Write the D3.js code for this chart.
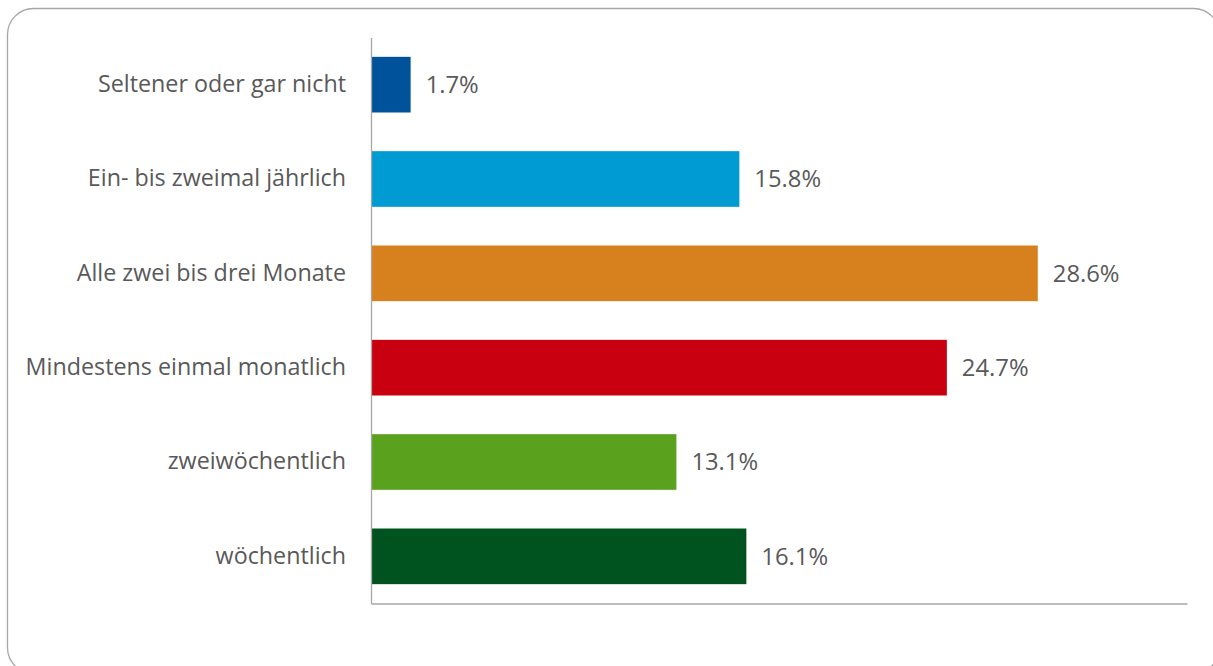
<!DOCTYPE html>
<html>
<head>
<meta charset="utf-8">
<script src="https://cdn.jsdelivr.net/npm/d3@7"></script>
<style>
  html, body { margin: 0; padding: 0; background: #fff; }
  svg { display: block; }
  text { font-family: "Open Sans", "Noto Sans", sans-serif; fill: #595959; }
</style>
</head>
<body>
<svg id="chart" width="1213" height="666"></svg>
<script>
const categories = [
  "Seltener oder gar nicht",
  "Ein- bis zweimal jährlich",
  "Alle zwei bis drei Monate",
  "Mindestens einmal monatlich",
  "zweiwöchentlich",
  "wöchentlich"
];
const values = [1.7, 15.8, 28.6, 24.7, 13.1, 16.1];
const colors = ["#00529B", "#009BD2", "#D6801E", "#C8000F", "#5AA21D", "#00521F"];
const xDomain = [0, 35];

const svg = d3.select("#chart");
const FS_CAT = 23.3;
const FS_VAL = 23.8;

// outer rounded frame
svg.append("rect")
  .attr("x", 7.5).attr("y", 8.5)
  .attr("width", 1212).attr("height", 665)
  .attr("rx", 26).attr("ry", 26)
  .attr("fill", "#fff")
  .attr("stroke", "#A6A6A6").attr("stroke-width", 1.3);

const margin = { left: 371, right: 1187, top: 37.5, bottom: 603.5 };

const x = d3.scaleLinear().domain(xDomain).range([margin.left, margin.right]);
const y = d3.scaleBand().domain(categories).range([margin.top, margin.bottom])
  .paddingInner(0.41).paddingOuter(0.205);

const data = categories.map((c, i) => ({ c, v: values[i], col: colors[i] }));

svg.append("g").selectAll("rect").data(data).join("rect")
  .attr("x", x(0))
  .attr("y", d => y(d.c))
  .attr("width", d => x(d.v) - x(0))
  .attr("height", y.bandwidth())
  .attr("fill", d => d.col);

// value labels
svg.append("g").selectAll("text").data(data).join("text")
  .attr("x", d => x(d.v) + 15)
  .attr("y", d => y(d.c) + y.bandwidth() / 2)
  .attr("dy", "0.35em")
  .attr("font-size", FS_VAL)
  .text(d => d.v.toFixed(1) + "%");

// category axis (left)
const yAxis = d3.axisLeft(y).tickSize(0).tickPadding(25);
const gy = svg.append("g").attr("transform", `translate(${x(0)},0)`).call(yAxis);
gy.select(".domain").attr("stroke", "#A6A6A6").attr("stroke-width", 1.3);
gy.selectAll("text").attr("font-size", FS_CAT).style("fill", "#595959")
  .attr("font-family", "\"Open Sans\", sans-serif");

// bottom axis line
const xAxis = d3.axisBottom(x).tickValues([]).tickSize(0);
const gx = svg.append("g").attr("transform", `translate(0,${margin.bottom})`).call(xAxis);
gx.select(".domain").attr("stroke", "#A6A6A6").attr("stroke-width", 1.3);
</script>
</body>
</html>
